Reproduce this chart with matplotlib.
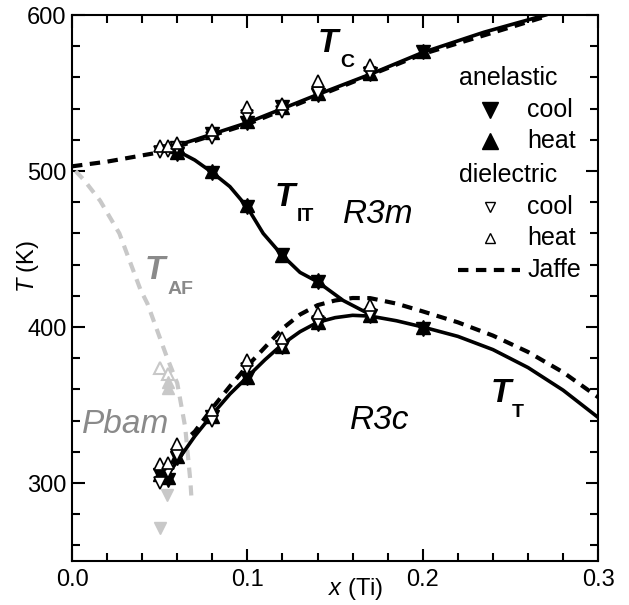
import matplotlib.pyplot as plt
from matplotlib.ticker import MultipleLocator

plt.rcParams['font.family'] = ['Liberation Sans', 'DejaVu Sans']
plt.rcParams['mathtext.fontset'] = 'custom'
plt.rcParams['mathtext.it'] = 'Liberation Sans:italic'
plt.rcParams['mathtext.rm'] = 'Liberation Sans'

# ---- curves ----
tc_x = [0.05, 0.07, 0.10, 0.14, 0.17, 0.20, 0.235, 0.27]
tc_T = [513, 520, 531, 549, 562, 576, 589, 600]
tit_x = [0.055, 0.0616, 0.07, 0.08, 0.09, 0.0998, 0.109, 0.1198, 0.13, 0.14, 0.1546, 0.17]
tit_T = [514, 512, 507, 499, 490, 477, 460, 446, 435, 429, 417, 408]
tt_x = [0.05, 0.055, 0.06, 0.07, 0.08, 0.09, 0.10, 0.11, 0.12, 0.13, 0.14, 0.15, 0.16,
        0.17, 0.185, 0.20, 0.22, 0.24, 0.26, 0.28, 0.30]
tt_T = [302, 306, 314, 330, 344, 357, 368, 379, 389, 397, 403, 406, 407.5,
        407, 404, 400, 394, 385.5, 374, 359.5, 342]
jaffe_hi_x = [0.0, 0.02, 0.04, 0.05, 0.10, 0.20, 0.27]
jaffe_hi_T = [503, 506, 510, 512, 530, 575, 599]
jaffe_lo_x = [0.068, 0.07, 0.08, 0.09, 0.10, 0.11, 0.12, 0.13, 0.14, 0.15, 0.16, 0.17,
              0.185, 0.20, 0.22, 0.24, 0.26, 0.28, 0.30]
jaffe_lo_T = [331, 333, 348, 362, 375, 387, 399, 408, 414, 417, 418.6, 418.5,
              415, 410, 403, 394.5, 384, 371, 355]
taf_x = [0.002, 0.007, 0.016, 0.027, 0.039, 0.043, 0.054, 0.060, 0.0645, 0.0675, 0.068]
taf_T = [500, 494, 481, 460, 424, 415, 381, 364, 336, 301, 292]

# ---- anelastic (filled) ----
an_x = [0.06, 0.08, 0.10, 0.12, 0.14, 0.17, 0.20,
        0.06, 0.08, 0.10, 0.12, 0.14,
        0.05, 0.055, 0.06, 0.08, 0.10, 0.12, 0.14, 0.17, 0.20]
an_cool_T = [515, 524, 531, 541, 549, 562, 576,
             511, 499, 477, 446, 429,
             305, 302, 316, 342, 367, 387, 402, 407, 399]
an_heat_T = [516, 525, 532, 541, 550, 563, 577,
             512, 500, 478, 446, 430,
             306, 304, 317, 343, 368, 388, 403, 408, 400]

# ---- dielectric (open) ----
di_x = [0.05, 0.055, 0.06, 0.08, 0.10, 0.12, 0.14, 0.17,
        0.05, 0.055, 0.06, 0.08, 0.10, 0.12, 0.14, 0.17]
di_cool_T = [512, 513, 515, 521, 535, 538, 550, 563,
             300, 307, 318, 340, 373, 387, 403, 408]
di_heat_T = [516, 516, 518, 526, 541, 543, 558, 568,
             312, 313, 325, 347, 379, 393, 409, 414]

# ---- Pbam (grey) ----
pb_open_x = [0.05, 0.055]
pb_open_T = [374, 370]
pb_heat_x = [0.055, 0.055]
pb_heat_T = [365, 361]
pb_cool_x = [0.054, 0.05]
pb_cool_T = [292, 271]

fig = plt.figure(figsize=(6.29, 6.05), dpi=100)
ax = fig.add_axes([0.1145, 0.0727, 0.8365, 0.9025])
grey = '#c8c8c8'
dgrey = '#8a8a8a'
dash = (2.5, 1.8)

ax.plot(taf_x, taf_T, '--', color=grey, lw=3, dashes=dash)
ax.plot(jaffe_hi_x, jaffe_hi_T, '--', color='k', lw=3, dashes=dash)
ax.plot(jaffe_lo_x, jaffe_lo_T, '--', color='k', lw=3, dashes=dash)
for xs, ts in [(tc_x, tc_T), (tit_x, tit_T), (tt_x, tt_T)]:
    ax.plot(xs, ts, '-', color='k', lw=2.6, solid_joinstyle='round')

ax.plot(pb_open_x, pb_open_T, '^', ms=9, mfc='white', mec=grey, mew=1.5, ls='none')
ax.plot(pb_heat_x, pb_heat_T, '^', ms=9, color=grey, ls='none')
ax.plot(pb_cool_x, pb_cool_T, 'v', ms=9, color=grey, ls='none')

ax.plot(an_x, an_cool_T, 'v', ms=10, color='k', ls='none')
ax.plot(an_x, an_heat_T, '^', ms=10, color='k', ls='none')
ax.plot(di_x, di_cool_T, 'v', ms=9, mfc='white', mec='k', mew=1.2, ls='none')
ax.plot(di_x, di_heat_T, '^', ms=9, mfc='white', mec='k', mew=1.2, ls='none')

ax.set_xlim(0, 0.3)
ax.set_ylim(250, 600)
ax.xaxis.set_major_locator(MultipleLocator(0.1))
ax.xaxis.set_minor_locator(MultipleLocator(0.02))
ax.yaxis.set_major_locator(MultipleLocator(100))
ax.yaxis.set_minor_locator(MultipleLocator(20))
ax.tick_params(which='both', direction='in', top=True, right=True, labelsize=17, width=1.5)
ax.tick_params(which='major', length=9)
ax.tick_params(which='minor', length=6)
ax.tick_params(axis='x', pad=6)
ax.tick_params(axis='y', pad=4)
ax.xaxis.set_major_formatter(plt.FuncFormatter(lambda v, p: f'{v:.1f}'))
for s in ax.spines.values():
    s.set_linewidth(1.5)


def ax_xy(px, py):
    return (px - 72) / 526, (561 - py) / 546


ax.text(*ax_xy(356, 589), r'$x$ (Ti)', transform=ax.transAxes, fontsize=17, ha='center', va='center')
ax.text(*ax_xy(28, 266), r'$T$ (K)', transform=ax.transAxes, fontsize=17, rotation=90,
        ha='center', va='center')


# phase labels
def tlabel(px, py, sub, color='k', subdx=0.042, subdy=-0.035, size=24):
    ax.text(px, py, 'T', transform=ax.transAxes, fontsize=size, fontweight='bold',
            fontstyle='italic', color=color, ha='left', va='center')
    ax.text(px + subdx, py + subdy, sub, transform=ax.transAxes, fontsize=14,
            fontweight='bold', color=color, ha='left', va='center')


tlabel(*ax_xy(318, 43), 'C')
tlabel(*ax_xy(275, 197), 'IT')
tlabel(*ax_xy(145, 270), 'AF', color=dgrey)
tlabel(*ax_xy(490, 393), 'T')
ax.text(*ax_xy(343, 214), 'R3m', transform=ax.transAxes, fontsize=24, fontstyle='italic',
        ha='left', va='center')
ax.text(*ax_xy(350, 420), 'R3c', transform=ax.transAxes, fontsize=24, fontstyle='italic',
        ha='left', va='center')
ax.text(*ax_xy(82, 424), 'Pbam', transform=ax.transAxes, fontsize=24, fontstyle='italic',
        color=dgrey, ha='left', va='center')

# legend
fs = 18
ax.text(*ax_xy(459, 78), 'anelastic', transform=ax.transAxes, fontsize=fs, ha='left', va='center')
ax.text(*ax_xy(459, 175), 'dielectric', transform=ax.transAxes, fontsize=fs, ha='left', va='center')
for py, lab, mk, filled in [(110, 'cool', 'v', True), (141, 'heat', '^', True),
                            (207, 'cool', 'v', False), (238, 'heat', '^', False)]:
    mx, my = ax_xy(490, py)
    if filled:
        ax.plot(mx, my, mk, ms=11, color='k', transform=ax.transAxes, clip_on=False)
    else:
        ax.plot(mx, my, mk, ms=7, mfc='white', mec='k', mew=1, transform=ax.transAxes, clip_on=False)
    ax.text(*ax_xy(527, py), lab, transform=ax.transAxes, fontsize=fs, ha='left', va='center')
x0, y0 = ax_xy(458, 270)
x1, _ = ax_xy(520, 270)
ax.plot([x0, x1], [y0, y0], '--', color='k', lw=3, dashes=dash, transform=ax.transAxes)
ax.text(*ax_xy(527, 270), 'Jaffe', transform=ax.transAxes, fontsize=fs, ha='left', va='center')

fig.savefig('out.png', dpi=100)
